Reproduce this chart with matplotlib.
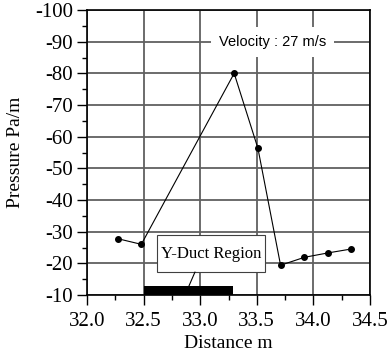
import numpy as np
import matplotlib
matplotlib.use("Agg")
import matplotlib.pyplot as plt
from matplotlib.ticker import MultipleLocator, FormatStrFormatter
from matplotlib.patches import Rectangle

plt.rcParams["axes.unicode_minus"] = False

# data
distance = [32.27, 32.48, 33.30, 33.51, 33.71, 33.92, 34.13, 34.33]
pressure = [-27.8, -26.0, -80.0, -56.3, -19.4, -21.9, -23.3, -24.5]

duct_start = 32.5
duct_end = 33.29

x_ticks = [32.0, 32.5, 33.0, 33.5, 34.0, 34.5]
y_ticks = [-10, -20, -30, -40, -50, -60, -70, -80, -90, -100]

fig, ax = plt.subplots(figsize=(3.91, 3.55), dpi=100)
fig.subplots_adjust(left=0.2225, right=0.9463, bottom=0.169, top=0.9718)

serif = "Liberation Serif"

# grid lines at the major ticks, drawn as ordinary lines
for xv in x_ticks:
    ax.plot([xv, xv], [y_ticks[0], y_ticks[-1]], color="#606060", lw=1.3,
            solid_capstyle="butt", zorder=2)
for yv in y_ticks:
    ax.plot([x_ticks[0], x_ticks[-1]], [yv, yv], color="#606060", lw=1.3,
            solid_capstyle="butt", zorder=2)

# Y-duct region bar
ax.barh(-11.35, duct_end - duct_start, left=duct_start, height=2.7,
        color="black", zorder=3)

ax.plot(distance, pressure, color="black", lw=0.8, marker="o",
        markersize=4, zorder=4)

ax.set_xlim(32.0, 34.5)
ax.set_ylim(-10, -100)
ax.set_xticks(x_ticks)
ax.set_yticks(y_ticks)
ax.xaxis.set_minor_locator(MultipleLocator(0.25))
ax.yaxis.set_minor_locator(MultipleLocator(5))
ax.xaxis.set_major_formatter(FormatStrFormatter("%.1f"))

ax.tick_params(which="major", direction="out", length=7, width=1,
               labelsize=15)
ax.tick_params(axis="y", which="major", pad=3)
ax.tick_params(axis="x", which="major", pad=5)
ax.tick_params(which="minor", direction="out", length=3.5, width=1)
for lab in ax.get_xticklabels() + ax.get_yticklabels():
    lab.set_fontfamily(serif)

for s in ax.spines.values():
    s.set_visible(True)
    s.set_color("black")
    s.set_linewidth(1.2)

ax.set_xlabel("Distance m", fontsize=14, family=serif, labelpad=3)
ax.set_ylabel("Pressure Pa/m", fontsize=14, family=serif, labelpad=8)

ax.text(33.64, -90, "Velocity : 27 m/s", fontsize=10.5,
        family="Liberation Sans", ha="center", va="center", zorder=5,
        bbox=dict(boxstyle="square,pad=0.55", fc="white", ec="none"))

# label box for the duct region
ax.add_patch(Rectangle((32.618, -17.26), 0.954, -11.69, fc="white",
                       ec="#404040", lw=0.8, zorder=5))
ax.text(33.095, -23.1, "Y-Duct Region", fontsize=12, family=serif,
        ha="center", va="center", zorder=6)
ax.annotate("", xy=(32.90, -12.8), xytext=(32.954, -17.26),
            arrowprops=dict(arrowstyle="-", color="black", lw=0.8,
                            shrinkA=0, shrinkB=0), zorder=6)

fig.savefig("out.png", dpi=100)
